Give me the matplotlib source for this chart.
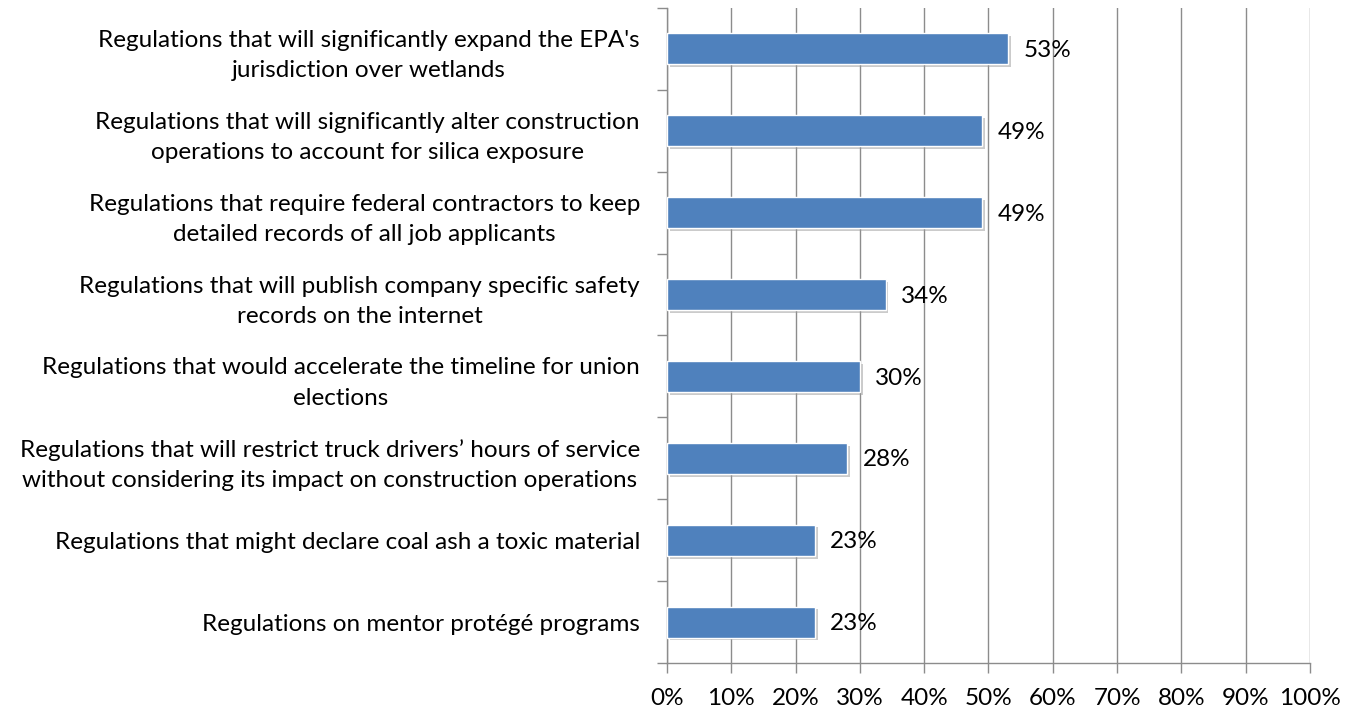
import matplotlib.pyplot as plt
import matplotlib.patheffects as pe
from matplotlib.ticker import FixedLocator, PercentFormatter

categories = [
    "Regulations that will significantly expand the EPA's\njurisdiction over wetlands",
    "Regulations that will significantly alter construction\noperations to account for silica exposure",
    "Regulations that require federal contractors to keep\ndetailed records of all job applicants",
    "Regulations that will publish company specific safety\nrecords on the internet",
    "Regulations that would accelerate the timeline for union\nelections",
    "Regulations that will restrict truck drivers\u2019 hours of service\nwithout considering its impact on construction operations",
    "Regulations that might declare coal ash a toxic material",
    "Regulations on mentor prot\u00e9g\u00e9 programs",
]
values = [53, 49, 49, 34, 30, 28, 23, 23]

plt.rcParams['font.family'] = ['Lato', 'DejaVu Sans']
FS = 17.5

fig = plt.figure(figsize=(13.54, 7.13), dpi=100)
ax = fig.add_axes([0.4926, 0.070, 0.4749, 0.919])

n = len(categories)
ypos = list(range(n))
bars = ax.barh(ypos, values, height=0.38, color='#4f81bd',
               edgecolor='white', linewidth=1.0, zorder=3)
for b in bars:
    b.set_path_effects([pe.SimplePatchShadow(offset=(2, -2), shadow_rgbFace='#999999', alpha=0.5),
                        pe.Normal()])

for y, v in zip(ypos, values):
    ax.text(v + 2.4, y + 0.02, f"{v}%", va='center', ha='left', fontsize=FS,
            color='black', zorder=4)

ax.set_xlim(0, 100)
ax.set_ylim(n - 0.5, -0.5)
ax.xaxis.set_major_locator(FixedLocator(range(0, 101, 10)))
ax.xaxis.set_major_formatter(PercentFormatter(decimals=0))
ax.grid(axis='x', color='#8c8c8c', linewidth=1.0, zorder=0)

ax.set_yticks(ypos)
ax.set_yticklabels(categories, fontsize=FS, linespacing=1.55)
ax.set_yticks([i - 0.5 for i in range(n + 1)], minor=True)
ax.tick_params(axis='y', which='major', length=0, pad=19.5)
ax.tick_params(axis='y', which='minor', length=7, color='#8c8c8c', width=1.0)
ax.tick_params(axis='x', which='major', length=7, color='#8c8c8c', width=1.0,
               labelsize=FS, pad=11)
for lbl in ax.get_yticklabels():
    lbl.set_horizontalalignment('right')
    lbl.set_multialignment('center')

for side in ('top', 'right'):
    ax.spines[side].set_visible(False)
for side in ('left', 'bottom'):
    ax.spines[side].set_color('#8c8c8c')
    ax.spines[side].set_linewidth(1.0)

fig.savefig('out.png', dpi=100)
